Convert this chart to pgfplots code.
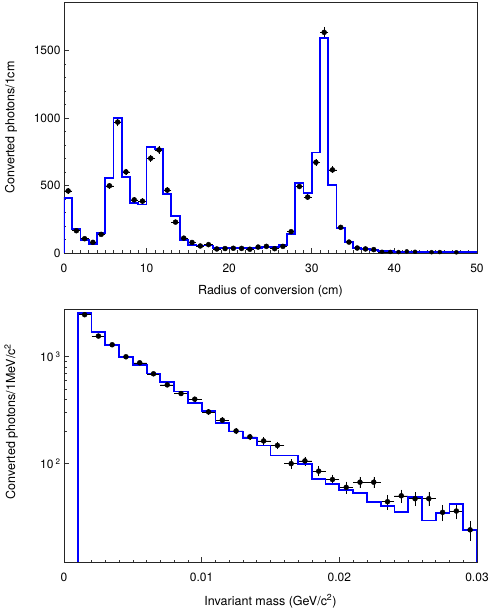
\documentclass[border=0pt]{standalone}
\usepackage{fontspec}
\setmainfont{TeX Gyre Heros}
\usepackage{pgfplots}
\pgfplotsset{compat=1.18}
\pgfplotsset{
  rootstyle/.style={
    scale only axis, width=413pt,
    axis line style={line width=0.8pt, black!85},
    tick style={black!80, line width=0.6pt},
    major tick length=5pt, minor tick length=2.5pt,
    xtick pos=bottom, ytick pos=left, tick align=inside,
    tick label style={font=\fontsize{12}{14}\selectfont},
    xticklabel style={yshift=-7pt},
    label style={font=\fontsize{12.5}{15}\selectfont},
    /pgf/number format/assume math mode=true,
    scaled x ticks=false, scaled y ticks=false,
  },
  myhist/.style={const plot mark left, mark=none, draw={rgb,255:red,0;green,0;blue,255}, line width=1.8pt},
  mypts/.style={only marks, mark=*, mark size=2.5pt, draw=black, fill=black,
    error bars/.cd, x dir=both, x explicit, y dir=both, y explicit,
    error mark=none, error bar style={line width=0.5pt, draw=black}},
  mytail/.style={only marks, mark=none,
    error bars/.cd, x dir=both, x explicit,
    error mark=none, error bar style={line width=0.5pt, draw=black}},
}
\begin{document}
\begin{tikzpicture}
\useasboundingbox (0,0) rectangle (491pt,608pt);
% ---------------- top ----------------
\begin{axis}[rootstyle, at={(64pt,355pt)}, anchor=south west, height=251pt,
  xmin=0, xmax=50, ymin=0, ymax=1860,
  xtick={0,10,20,30,40,50}, xticklabels={0,10,20,30,40,50}, minor x tick num=9,
  ytick={0,500,1000,1500}, yticklabels={0,500,1000,1500}, minor y tick num=4,
  xlabel={Radius of conversion (cm)}, ylabel={Converted photons/1cm},
  xlabel style={at={(axis description cs:0.5,-0.167)}, anchor=base},
  ylabel style={at={(axis description cs:-0.128,0.5)}, anchor=center},
  ]
\addplot[mypts] coordinates {
(0.5,460) +- (0.5,21)
(1.5,165) +- (0.5,13)
(2.5,106) +- (0.5,10)
(3.5,79) +- (0.5,9)
(4.5,138) +- (0.5,12)
(5.5,498) +- (0.5,22)
(6.5,970) +- (0.5,31)
(7.5,601) +- (0.5,25)
(8.5,394) +- (0.5,20)
(9.5,384) +- (0.5,20)
(10.5,702) +- (0.5,26)
(11.5,764) +- (0.5,28)
(12.5,466) +- (0.5,22)
(13.5,229) +- (0.5,15)
(14.5,110) +- (0.5,10)
(15.5,78) +- (0.5,9)
(16.5,52) +- (0.5,7)
(17.5,62) +- (0.5,8)
(18.5,30) +- (0.5,5)
(19.5,33) +- (0.5,6)
(20.5,35) +- (0.5,6)
(21.5,34) +- (0.5,6)
(22.5,28) +- (0.5,5)
(23.5,44) +- (0.5,7)
(24.5,49) +- (0.5,7)
(25.5,32) +- (0.5,6)
(26.5,49) +- (0.5,7)
(27.5,158) +- (0.5,13)
(28.5,493) +- (0.5,22)
(29.5,414) +- (0.5,20)
(30.5,672) +- (0.5,26)
(31.5,1635) +- (0.5,40)
(32.5,616) +- (0.5,25)
(33.5,190) +- (0.5,14)
(34.5,81) +- (0.5,9)
(35.5,37) +- (0.5,6)
(36.5,30) +- (0.5,5)
(37.5,25) +- (0.5,5)
};
\addplot[mytail] coordinates {
(38.5,9) +- (0.5,0)
(39.5,8) +- (0.5,0)
(40.5,7) +- (0.5,0)
(41.5,12) +- (0.5,0)
(42.5,9) +- (0.5,0)
(44.5,6) +- (0.5,0)
(45.5,7) +- (0.5,0)
(47.5,5) +- (0.5,0)
};
\addplot[myhist] coordinates {
(0,0)(0,410)(1,177)(2,94)(3,69)(4,148)(5,554)(6,1002)(7,562)(8,369)(9,360)
(10,783)(11,768)(12,438)(13,276)(14,96)(15,60)(16,55)(17,55)(18,35)(19,35)
(20,35)(21,35)(22,35)(23,37)(24,42)(25,44)(26,62)(27,143)(28,517)(29,443)
(30,744)(31,1594)(32,505)(33,185)(34,79)(35,37)(36,30)(37,20)(38,14)(39,12)
(40,10)(41,10)(42,9)(43,8)(44,8)(45,7)(46,7)(47,6)(48,6)(49,5)(50,5)};
\end{axis}
% ---------------- bottom ----------------
\begin{axis}[rootstyle, at={(64pt,46pt)}, anchor=south west, height=253pt,
  ymode=log, xmin=0, xmax=0.03, ymin=12, ymax=2800,
  xtick={0,0.01,0.02,0.03}, xticklabels={0,0.01,0.02,0.03}, minor x tick num=9,
  ytick={100,1000}, yticklabels={10\,\textsuperscript{2},10\,\textsuperscript{3}},
  xlabel={Invariant mass (GeV/c\textsuperscript{2})}, ylabel={Converted photons/1MeV/c\textsuperscript{2}},
  xlabel style={at={(axis description cs:0.5,-0.170)}, anchor=base},
  ylabel style={at={(axis description cs:-0.128,0.555)}, anchor=center},
  ]
\addplot[mypts] coordinates {
(0.0015,2477) +- (0.0005,50)
(0.0025,1563) +- (0.0005,40)
(0.0035,1296) +- (0.0005,36)
(0.0045,1000) +- (0.0005,32)
(0.0055,879) +- (0.0005,30)
(0.0065,693) +- (0.0005,26)
(0.0075,546) +- (0.0005,23)
(0.0085,453) +- (0.0005,21)
(0.0095,401) +- (0.0005,20)
(0.0105,305) +- (0.0005,17)
(0.0115,255) +- (0.0005,16)
(0.0125,202) +- (0.0005,14)
(0.0135,178) +- (0.0005,13)
(0.0145,163) +- (0.0005,13)
(0.0155,148) +- (0.0005,12)
(0.0165,100) +- (0.0005,10)
(0.0175,106) +- (0.0005,10)
(0.0185,85) +- (0.0005,9)
(0.0195,71) +- (0.0005,8)
(0.0205,60) +- (0.0005,8)
(0.0215,67) +- (0.0005,8)
(0.0225,67) +- (0.0005,8)
(0.0235,44) +- (0.0005,7)
(0.0245,50) +- (0.0005,7)
(0.0255,47) +- (0.0005,7)
(0.0265,47) +- (0.0005,7)
(0.0275,35) +- (0.0005,6)
(0.0285,36) +- (0.0005,6)
(0.0295,24) +- (0.0005,5)
};
\addplot[myhist] coordinates {
(0.001,1)(0.001,2547)(0.002,1703)(0.003,1296)(0.004,993)(0.005,841)(0.006,698)
(0.007,579)(0.008,473)(0.009,370)(0.010,310)(0.011,241)(0.012,200)(0.013,175)
(0.014,148)(0.015,119)(0.016,119)(0.017,100)(0.018,72)(0.019,65)(0.020,57)
(0.021,53)(0.022,44)(0.023,40)(0.024,35.5)(0.025,49)(0.026,29.4)(0.027,34.5)
(0.028,42)(0.029,24)(0.030,24)(0.030,1)};
\end{axis}
\end{tikzpicture}
\end{document}
